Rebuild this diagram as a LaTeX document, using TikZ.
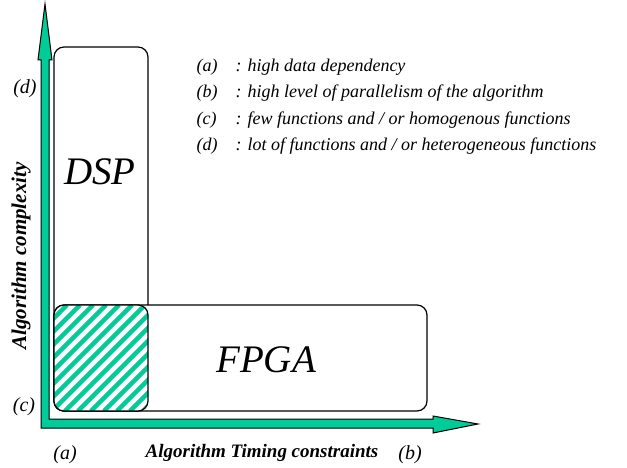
\documentclass[tikz,border=0pt]{standalone}
\usepackage{fontspec}
\setmainfont{Liberation Serif}
\definecolor{axisgreen}{RGB}{0,204,153}

\begin{document}
\begin{tikzpicture}[x=1pt,y=-1pt,
  box/.style={draw,line width=1.2pt,rounded corners=10pt},
  axissty/.style={draw,fill=axisgreen,line width=1pt,line join=miter},
  legendsty/.style={anchor=west,font=\fontsize{18}{18}\selectfont\itshape},
  endsty/.style={font=\fontsize{20}{20}\selectfont\itshape},
  titlesty/.style={font=\fontsize{19}{19}\selectfont\bfseries\itshape},
  bigsty/.style={font=\fontsize{39}{39}\selectfont\itshape}]
  \useasboundingbox (0,0) rectangle (627,468);

  % the two boxes
  \draw[box] (54,47) rectangle (148,411);
  \draw[box,fill=white] (54,305) rectangle (427,411);

  % hatched overlap
  \begin{scope}
    \clip[rounded corners=10pt] (54,305) rectangle (148,411);
    \fill[white] (54,305) rectangle (148,411);
    \foreach \x in {0,13,...,208} {
      \draw[axisgreen,line width=4.5pt] (\x-52,411) -- (\x+54,305);
    }
  \end{scope}
  \draw[box] (54,305) rectangle (148,411);

  % axes
  \coordinate (origin) at (41,428);
  \draw[axissty] (origin) -- (41,60) -- (38,60) -- (45,4) -- (52,60) -- (49,60)
    -- (49,419) -- (433,419) -- (433,416) -- (478,424) -- (433,433) -- (433,428) -- cycle;

  \node[bigsty] (dsp) at (100,172) {DSP};
  \node[bigsty] (fpga) at (266,360) {FPGA};

  \node[endsty] (la) at (65,455) {(a)};
  \node[endsty] (lb) at (410,455) {(b)};
  \node[endsty] (lc) at (24,407) {(c)};
  \node[endsty] (ld) at (25,89) {(d)};
  \node[titlesty,font=\fontsize{21}{21}\selectfont\bfseries\itshape,rotate=90] (ytitle) at (21,256) {Algorithm complexity};
  \node[titlesty] (xtitle) at (262,453) {Algorithm Timing constraints};

  % legend
  \foreach \y/\l/\t in {67/a/{high data dependency},
    93/b/{high level of parallelism of the algorithm},
    120/c/{few functions and / or homogenous functions},
    146/d/{lot of functions and / or heterogeneous functions}} {
    \node[legendsty] (key\l) at (193,\y) {(\l)};
    \node[legendsty] (text\l) at (232,\y) {: \t};
  }
\end{tikzpicture}
\end{document}
